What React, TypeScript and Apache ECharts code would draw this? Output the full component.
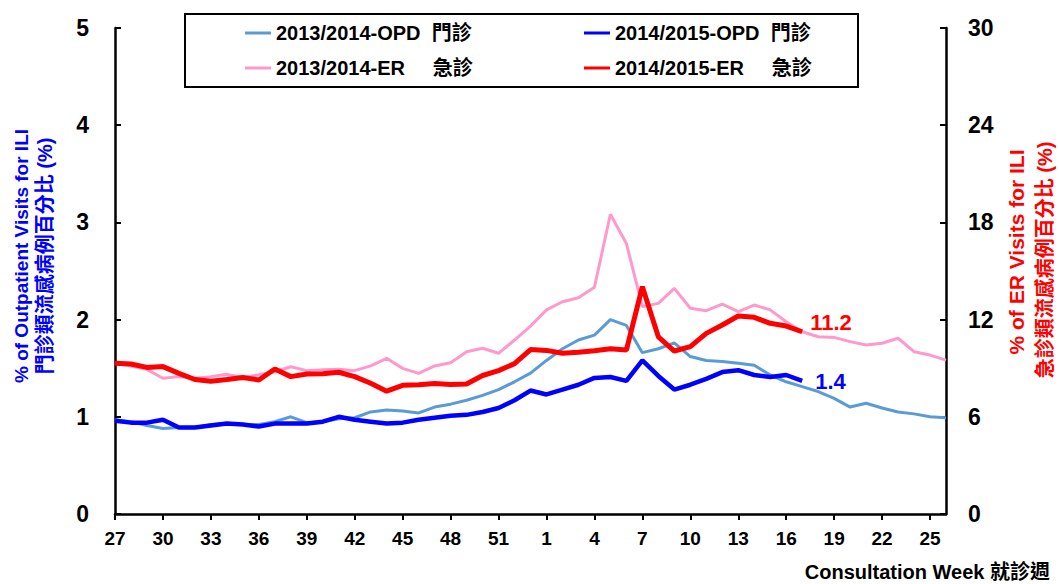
import React, { useEffect, useRef } from "react";
import * as echarts from "echarts";

const weeks: string[] = [
  "27","28","29","30","31","32","33","34","35","36","37","38","39","40","41","42","43","44","45","46","47","48","49","50","51","52","53",
  "1","2","3","4","5","6","7","8","9","10","11","12","13","14","15","16","17","18","19","20","21","22","23","24","25","26",
];

const opd1314: number[] = [
  0.97, 0.95, 0.91, 0.88, 0.89, 0.89, 0.92, 0.93, 0.92, 0.92, 0.95, 1.0, 0.94, 0.95, 0.98, 0.99, 1.05, 1.07, 1.06, 1.04,
  1.1, 1.13, 1.17, 1.22, 1.28, 1.36, 1.45, 1.58, 1.7, 1.79, 1.84, 2.0, 1.94, 1.66, 1.7, 1.76, 1.62, 1.58, 1.57, 1.55,
  1.53, 1.43, 1.36, 1.31, 1.26, 1.19, 1.1, 1.14, 1.09, 1.05, 1.03, 1.0, 0.99,
];

const opd1415: number[] = [
  0.96, 0.94, 0.94, 0.97, 0.89, 0.89, 0.91, 0.93, 0.92, 0.9, 0.93, 0.93, 0.93, 0.95, 1.0, 0.97, 0.95, 0.93, 0.94, 0.97,
  0.99, 1.01, 1.02, 1.05, 1.09, 1.17, 1.27, 1.23, 1.28, 1.33, 1.4, 1.41, 1.37, 1.58, 1.42, 1.28, 1.33, 1.39, 1.46, 1.48,
  1.43, 1.41, 1.43, 1.37,
];

const er1314: number[] = [
  9.34, 9.14, 8.93, 8.38, 8.48, 8.38, 8.48, 8.62, 8.43, 8.6, 8.78, 9.09, 8.85, 8.9, 8.93, 8.85, 9.14, 9.61, 8.99, 8.68,
  9.14, 9.34, 10.02, 10.23, 9.92, 10.74, 11.6, 12.6, 13.1, 13.35, 14.0, 18.5, 16.7, 12.8, 13.0, 13.93, 12.7, 12.55, 12.96, 12.49,
  12.9, 12.6, 11.87, 11.25, 10.94, 10.9, 10.64, 10.43, 10.54, 10.85, 10.02, 9.81, 9.5,
];

const er1415: number[] = [
  9.3, 9.26, 9.05, 9.1, 8.68, 8.3, 8.2, 8.3, 8.43, 8.27, 8.95, 8.48, 8.64, 8.66, 8.75, 8.48, 8.07, 7.58, 7.94, 7.98,
  8.05, 8.0, 8.02, 8.55, 8.85, 9.28, 10.15, 10.1, 9.92, 9.98, 10.08, 10.2, 10.12, 14.03, 10.94, 10.06, 10.33, 11.15, 11.67, 12.22,
  12.14, 11.77, 11.6, 11.25,
];

const seriesNames: string[] = [
  "2013/2014-OPD  門診",
  "2014/2015-OPD  門診",
  "2013/2014-ER     急診",
  "2014/2015-ER     急診",
];

const FONT = "'Liberation Sans', Arial, 'Noto Sans CJK TC', sans-serif";

export default function App() {
  const ref = useRef<HTMLDivElement>(null);

  useEffect(() => {
    if (!ref.current) return;
    const chart = echarts.init(ref.current, undefined, { renderer: "svg" });

    const legendBase = {
      orient: "horizontal" as const,
      icon: "rect",
      itemWidth: 26,
      itemHeight: 3,
      itemGap: 5,
      padding: 0,
      selectedMode: false,
      z: 10,
      textStyle: { fontFamily: FONT, fontWeight: "bold" as const, fontSize: 20, color: "#000" },
    };

    chart.setOption({
      animation: false,
      backgroundColor: "#fff",
      textStyle: { fontFamily: FONT },
      grid: { left: 115, right: 113, top: 28, bottom: 70, containLabel: false },
      legend: [
        { ...legendBase, data: [seriesNames[0]], left: 245, top: 23 },
        { ...legendBase, data: [seriesNames[1]], left: 584, top: 23 },
        { ...legendBase, data: [seriesNames[2]], left: 245, top: 58 },
        { ...legendBase, data: [seriesNames[3]], left: 584, top: 58 },
      ],
      xAxis: {
        type: "category",
        data: weeks,
        boundaryGap: false,
        axisLine: { show: true, lineStyle: { color: "#000", width: 2.5 } },
        axisTick: { show: true, inside: false, length: 6, interval: 2, lineStyle: { color: "#000", width: 2 } },
        axisLabel: {
          interval: 2,
          margin: 15,
          color: "#000",
          fontWeight: "bold",
          fontSize: 19,
          fontFamily: FONT,
        },
        splitLine: { show: false },
      },
      yAxis: [
        {
          type: "value",
          min: 0,
          max: 5,
          interval: 1,
          position: "left",
          axisLine: { show: true, lineStyle: { color: "#000", width: 2.5 } },
          axisTick: { show: true, inside: true, length: 6, lineStyle: { color: "#000", width: 2 } },
          axisLabel: { margin: 26, color: "#000", fontWeight: "bold", fontSize: 23, fontFamily: FONT },
          splitLine: { show: false },
        },
        {
          type: "value",
          min: 0,
          max: 30,
          interval: 6,
          position: "right",
          axisLine: { show: true, lineStyle: { color: "#000", width: 2.5 } },
          axisTick: { show: true, inside: true, length: 6, lineStyle: { color: "#000", width: 2 } },
          axisLabel: { margin: 22, color: "#000", fontWeight: "bold", fontSize: 23, fontFamily: FONT },
          splitLine: { show: false },
        },
      ],
      series: [
        {
          name: seriesNames[0],
          type: "line",
          yAxisIndex: 0,
          data: opd1314,
          symbol: "none",
          showSymbol: false,
          color: "#5B9BD5",
          lineStyle: { color: "#5B9BD5", width: 3 },
          z: 2,
        },
        {
          name: seriesNames[2],
          type: "line",
          yAxisIndex: 1,
          data: er1314,
          symbol: "none",
          showSymbol: false,
          color: "#FF99CC",
          lineStyle: { color: "#FF99CC", width: 3 },
          z: 2,
        },
        {
          name: seriesNames[1],
          type: "line",
          yAxisIndex: 0,
          data: opd1415,
          symbol: "none",
          showSymbol: false,
          color: "#0000FF",
          lineStyle: { color: "#0000FF", width: 4.5 },
          z: 3,
          endLabel: {
            show: true,
            formatter: "1.4",
            color: "#0000FF",
            fontWeight: "bold",
            fontSize: 22,
            fontFamily: FONT,
            distance: 13,
            offset: [0, 1],
          },
        },
        {
          name: seriesNames[3],
          type: "line",
          yAxisIndex: 1,
          data: er1415,
          symbol: "none",
          showSymbol: false,
          color: "#FF0000",
          lineStyle: { color: "#FF0000", width: 5 },
          z: 3,
          endLabel: {
            show: true,
            formatter: "11.2",
            color: "#FF0000",
            fontWeight: "bold",
            fontSize: 22,
            fontFamily: FONT,
            distance: 8,
            offset: [0, -9],
          },
        },
      ],
      graphic: [
        {
          type: "rect",
          z: 1,
          shape: { x: 185, y: 14, width: 673, height: 73 },
          style: { fill: "#fff", stroke: "#000", lineWidth: 2 },
        },
        {
          type: "text",
          x: 21,
          y: 256,
          rotation: Math.PI / 2,
          style: {
            text: "% of Outpatient Visits for ILI",
            fill: "#0000FF",
            font: `bold 19px ${FONT}`,
            textAlign: "center",
            textVerticalAlign: "middle",
          },
        },
        {
          type: "text",
          x: 45,
          y: 256,
          rotation: Math.PI / 2,
          style: {
            text: "門診類流感病例百分比 (%)",
            fill: "#0000FF",
            font: `bold 20px ${FONT}`,
            textAlign: "center",
            textVerticalAlign: "middle",
          },
        },
        {
          type: "text",
          x: 1016,
          y: 252,
          rotation: Math.PI / 2,
          style: {
            text: "% of ER Visits for ILI",
            fill: "#FF0000",
            font: `bold 21px ${FONT}`,
            textAlign: "center",
            textVerticalAlign: "middle",
          },
        },
        {
          type: "text",
          x: 1045,
          y: 260,
          rotation: Math.PI / 2,
          style: {
            text: "急診類流感病例百分比 (%)",
            fill: "#FF0000",
            font: `bold 20px ${FONT}`,
            textAlign: "center",
            textVerticalAlign: "middle",
          },
        },
        {
          type: "text",
          x: 1050,
          y: 572,
          style: {
            text: "Consultation Week 就診週",
            fill: "#000",
            font: `bold 20px ${FONT}`,
            textAlign: "right",
            textVerticalAlign: "middle",
          },
        },
      ],
    });

    return () => chart.dispose();
  }, []);

  return (
    <div
      ref={ref}
      style={{ position: "fixed", left: 0, top: 0, width: 1059, height: 584, background: "#fff" }}
    />
  );
}
